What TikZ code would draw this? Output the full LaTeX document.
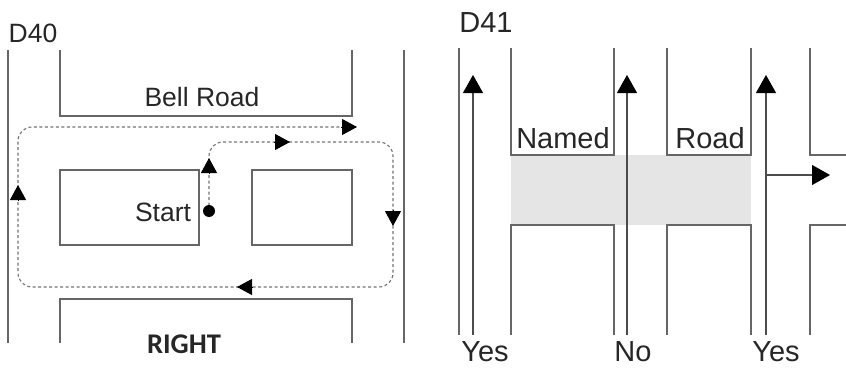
\documentclass[tikz,border=0pt]{standalone}
\usepackage{fontspec}
\setmainfont{Liberation Sans}
\newfontfamily\signfont{Carlito}
\usetikzlibrary{arrows.meta}

\begin{document}
\begin{tikzpicture}[x=1pt, y=-1pt,
  road/.style = {draw=black!60, line width=1.1pt},
  route/.style = {draw=black!55, line width=1.1pt,
    dash pattern=on 3pt off 2.5pt, rounded corners=14pt},
  head/.style = {-{Triangle[length=15pt,width=16pt]}, black, line width=1pt},
  bighead/.style = {-{Triangle[length=18pt,width=20pt,color=black]},
    draw=black!70, line width=1.1pt},
  every node/.style = {font=\fontsize{26.5}{30}\selectfont, text=black!85,
    inner sep=0pt},
  big/.style = {font=\fontsize{29}{32}\selectfont}]

  \useasboundingbox (0,0) rectangle (846,369);

  % D40
  \node (d40) at (33,33) {D40};
  \draw[road] (8,50) -- (8,343);
  \draw[road] (404,50) -- (404,343);
  \draw[road] (60,50) -- (60,116) -- (352,116) -- (352,50);
  \draw[road] (60,343) -- (60,299) -- (352,299) -- (352,343);
  \draw[road] (60,170) rectangle (199,245);
  \draw[road] (252,170) rectangle (352,245);
  \node (bell) at (202,97) {Bell Road};
  \node (start) at (163,212) {Start};
  \node (right) at (184,344) {\signfont\bfseries\fontsize{28.5}{30}\selectfont RIGHT};

  \coordinate (s) at (209,211);
  \coordinate (c1) at (209,142);
  \coordinate (c2) at (393,142);
  \coordinate (c3) at (393,287);
  \coordinate (c4) at (18,287);
  \coordinate (c5) at (18,127);
  \coordinate (e) at (357,127);
  \draw[route] (s) -- (c1) -- (c2) -- (c3) -- (c4) -- (c5) -- (e);
  \fill (s) circle (6pt);
  \foreach \a/\b in {{(209,174)}/{(209,158)}, {(274,142)}/{(290,142)},
      {(393,210)}/{(393,226)}, {(253,287)}/{(237,287)},
      {(18,201)}/{(18,185)}, {(341,127)}/{(e)}}
    \draw[head] \a -- \b;

  % D41
  \node[big] (d41) at (486,23) {D41};
  \fill[black!10] (511,155) rectangle (751,225);
  \draw[road] (459,48) -- (459,335);
  \draw[road] (511,48) -- (511,155) -- (614,155) -- (614,48);
  \draw[road] (667,48) -- (667,155) -- (751,155) -- (751,48);
  \draw[road] (810,48) -- (810,155) -- (846,155);
  \draw[road] (511,335) -- (511,225) -- (614,225) -- (614,335);
  \draw[road] (667,335) -- (667,225) -- (751,225) -- (751,335);
  \draw[road] (810,335) -- (810,225) -- (846,225);
  \node[big] (named) at (563,138) {Named};
  \node[big] (road) at (710,138) {Road};

  \node[big] (yes1) at (485,352) {Yes};
  \node[big] (no) at (633,352) {No};
  \node[big] (yes2) at (776,352) {Yes};
  \coordinate (t1) at (473,75);
  \coordinate (t2) at (627,75);
  \coordinate (t3) at (766,75);
  \coordinate (turn) at (766,175);
  \coordinate (t4) at (830,175);
  \draw[bighead] (473,335) -- (t1);
  \draw[bighead] (627,335) -- (t2);
  \draw[bighead] (766,335) -- (t3);
  \draw[bighead] (turn) -- (t4);
\end{tikzpicture}
\end{document}
